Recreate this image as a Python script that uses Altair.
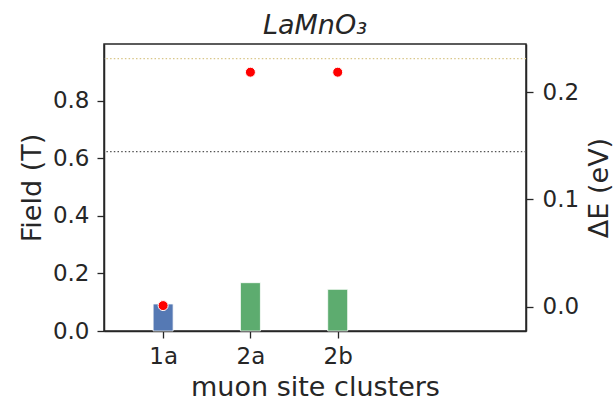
import altair as alt
import pandas as pd

# ---- data ----
sites = ["1a", "2a", "2b"]
site_pos = [0, 1, 2]
field_T = [0.094, 0.168, 0.145]
bar_colors = ["#4C72B0", "#55A868", "#55A868"]
delta_E = [0.001, 0.2187, 0.2187]
ref_fields = [0.624, 0.947]
ref_colors = ["#555555", "#d9c78a"]

bars_df = pd.DataFrame({"site": sites, "pos": site_pos, "field": field_T, "color": bar_colors})
pts_df = pd.DataFrame({"site": sites, "pos": site_pos, "dE": delta_E})
ref_df = pd.DataFrame({"field": ref_fields, "color": ref_colors})

FONT = "DejaVu Sans"
DARK = "#262626"

label_expr = "[" + ",".join("'%s'" % s for s in sites) + "][datum.value]"

x_scale = alt.Scale(domain=[-0.62, 4.1], nice=False, zero=False)
x_enc = alt.X(
    "pos:Q",
    scale=x_scale,
    axis=alt.Axis(
        values=site_pos,
        labelExpr=label_expr,
        title="muon site clusters",
        grid=False,
        labelPadding=7,
        titlePadding=6,
    ),
)

yl_scale = alt.Scale(domain=[0, 0.998], nice=False, zero=False)
yr_scale = alt.Scale(domain=[-0.0227, 0.245], nice=False, zero=False)

bars = alt.Chart(bars_df).mark_bar(size=20, stroke="white", strokeWidth=0.8, opacity=0.95).encode(
    x=x_enc,
    y=alt.Y(
        "field:Q",
        scale=yl_scale,
        axis=alt.Axis(values=[0, 0.2, 0.4, 0.6, 0.8], format=".1f", title="Field (T)",
                      grid=False, orient="left", labelPadding=8, titlePadding=6),
    ),
    color=alt.Color("color:N", scale=None),
)

rules = alt.Chart(ref_df).mark_rule(strokeDash=[1.5, 2.2], strokeWidth=1.2).encode(
    y=alt.Y("field:Q", scale=yl_scale),
    color=alt.Color("color:N", scale=None),
)

left = alt.layer(bars, rules)

points = alt.Chart(pts_df).mark_circle(size=100, color="#ff0000", opacity=1, stroke="white", strokeWidth=1).encode(
    x=alt.X("pos:Q", scale=x_scale),
    y=alt.Y(
        "dE:Q",
        scale=yr_scale,
        axis=alt.Axis(values=[0.0, 0.1, 0.2], format=".1f", title="ΔE (eV)", grid=False,
                      orient="right", titleAngle=270, titleBaseline="top",
                      labelPadding=9, titlePadding=8),
    ),
)

chart = (
    alt.layer(left, points)
    .resolve_scale(y="independent")
    .properties(
        width=422,
        height=287,
        title=alt.TitleParams(
            "LaMnO₃", font=FONT, fontSize=27, fontStyle="italic", fontWeight="normal",
            color=DARK, offset=4, anchor="middle",
        ),
        autosize=alt.AutoSizeParams(type="none"),
        padding={"left": 104, "top": 44, "right": 89, "bottom": 72},
    )
    .configure_view(stroke=DARK, strokeWidth=1.5)
    .configure_axis(
        labelFont=FONT, titleFont=FONT, labelFontSize=23, titleFontSize=27,
        labelColor=DARK, titleColor=DARK, titleFontWeight="normal",
        domainColor=DARK, domainWidth=1.5, tickColor=DARK, tickWidth=1.3, tickSize=7,
    )
    .configure_axisX(labelAngle=0)
)

chart.save("out.html", embed_options={"renderer": "svg", "actions": False})
